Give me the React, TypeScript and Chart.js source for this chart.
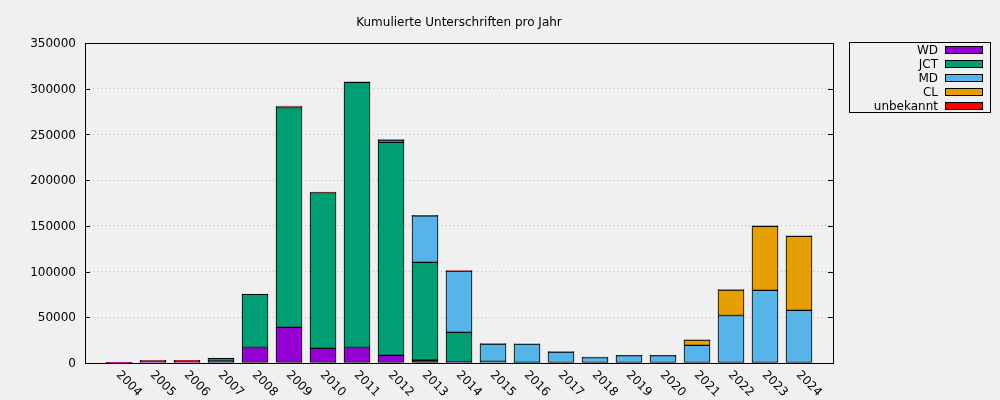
import React, { useEffect, useRef } from "react";
import { Chart, registerables } from "chart.js";

Chart.register(...registerables);

const TITLE = "Kumulierte Unterschriften pro Jahr";
const years = ["2004","2005","2006","2007","2008","2009","2010","2011","2012","2013","2014","2015","2016","2017","2018","2019","2020","2021","2022","2023","2024"];
const wd = [400, 1500, 1500, 2000, 17000, 39000, 16000, 17000, 8400, 3000, 1000, 0, 0, 0, 0, 0, 0, 0, 0, 0, 0];
const jct = [0, 1000, 900, 3000, 58000, 240500, 170500, 290000, 233000, 107000, 32500, 1800, 700, 0, 0, 0, 0, 0, 0, 0, 0];
const md = [0, 0, 0, 0, 0, 1000, 0, 0, 2500, 51000, 67000, 19000, 20000, 12000, 6000, 8000, 8000, 19300, 52000, 79500, 57600];
const cl = [0, 0, 0, 0, 0, 0, 0, 0, 0, 0, 0, 0, 0, 0, 0, 0, 0, 5700, 27800, 70000, 81000];
const unbekannt = [400, 400, 400, 500, 500, 500, 500, 500, 500, 500, 500, 400, 400, 400, 400, 400, 400, 400, 400, 400, 400];
const seriesNames = ["WD", "JCT", "MD", "CL", "unbekannt"];
const seriesColors = ["#9400d3", "#009e73", "#56b4e9", "#e69f00", "#ff0000"];
const yMax = 350000;
const yStep = 50000;

const FONT = "12px 'DejaVu Sans'";

const overlay = {
  id: "overlay",
  afterDraw(chart: any) {
    const ctx = chart.ctx;
    const a = chart.chartArea;
    const ys = chart.scales.y;
    const xs = chart.scales.x;
    ctx.save();
    // border
    ctx.strokeStyle = "#000";
    ctx.lineWidth = 1;
    ctx.strokeRect(Math.round(a.left) + 0.5, Math.round(a.top) + 0.5, Math.round(a.right - a.left), Math.round(a.bottom - a.top));
    // inward ticks on left/right
    for (let v = 0; v <= yMax; v += yStep) {
      const y = Math.round(ys.getPixelForValue(v)) + 0.5;
      ctx.beginPath();
      ctx.moveTo(a.left, y);
      ctx.lineTo(a.left + 5, y);
      ctx.moveTo(a.right, y);
      ctx.lineTo(a.right - 5, y);
      ctx.stroke();
    }
    // x labels rotated
    ctx.fillStyle = "#000";
    ctx.font = FONT;
    ctx.textAlign = "left";
    ctx.textBaseline = "middle";
    years.forEach((yr, i) => {
      const x = xs.getPixelForValue(i + 1);
      ctx.save();
      ctx.translate(x - 1, a.bottom + 10);
      ctx.rotate(Math.PI / 4);
      ctx.fillText(yr, 0, 0);
      ctx.restore();
    });
    // title
    ctx.textAlign = "center";
    ctx.fillText(TITLE, (a.left + a.right) / 2, 23);
    // legend
    ctx.strokeRect(849.5, 42.5, 141, 70);
    ctx.textAlign = "right";
    seriesNames.forEach((n, i) => {
      const cy = 50 + i * 14;
      ctx.fillStyle = "#000";
      ctx.fillText(n, 938, cy + 1);
      ctx.fillStyle = seriesColors[i];
      ctx.fillRect(945, cy - 3, 38, 6);
      ctx.strokeRect(945.5, cy - 3.5, 37, 7);
    });
    ctx.restore();
  },
};

export default function App() {
  const ref = useRef<HTMLCanvasElement>(null);
  useEffect(() => {
    const labels = ["", ...years, ""];
    const pad = (arr: number[]) => [null, ...arr, null];
    const all = [wd, jct, md, cl, unbekannt];
    const chart = new Chart(ref.current!, {
      type: "bar",
      data: {
        labels,
        datasets: all.map((d, i) => ({
          label: seriesNames[i],
          data: pad(d) as any,
          backgroundColor: seriesColors[i],
          borderColor: "#000",
          borderWidth: 1,
          borderSkipped: false,
          barThickness: 26,
        })),
      },
      options: {
        animation: false,
        responsive: true,
        maintainAspectRatio: false,
        layout: { padding: { top: 43, right: 167, left: 0, bottom: 0 } },
        plugins: { legend: { display: false }, title: { display: false }, tooltip: { enabled: false } },
        scales: {
          x: {
            stacked: true,
            offset: false,
            grid: { display: false },
            border: { display: false },
            ticks: { display: false },
            afterFit: (s: any) => { s.height = 37; },
          },
          y: {
            stacked: true,
            min: 0,
            max: yMax,
            grid: {
              drawTicks: false,
              color: (c: any) => (c.tick && (c.tick.value === 0 || c.tick.value === yMax) ? "rgba(0,0,0,0)" : "#b8b8b8"),
              lineWidth: 1,
            },
            border: { display: false, dash: [1, 3] },
            ticks: {
              stepSize: yStep,
              color: "#000",
              font: { family: "'DejaVu Sans'", size: 12 },
              padding: 9,
              labelOffset: 1,
              callback: (v: any) => String(v),
            },
            afterFit: (s: any) => { s.width = 85; },
          },
        },
      },
      plugins: [overlay],
    });
    return () => chart.destroy();
  }, []);
  return (
    <div style={{ position: "fixed", left: 0, top: 0, width: 1000, height: 400, background: "#f0f0f0" }}>
      <canvas ref={ref} />
    </div>
  );
}
